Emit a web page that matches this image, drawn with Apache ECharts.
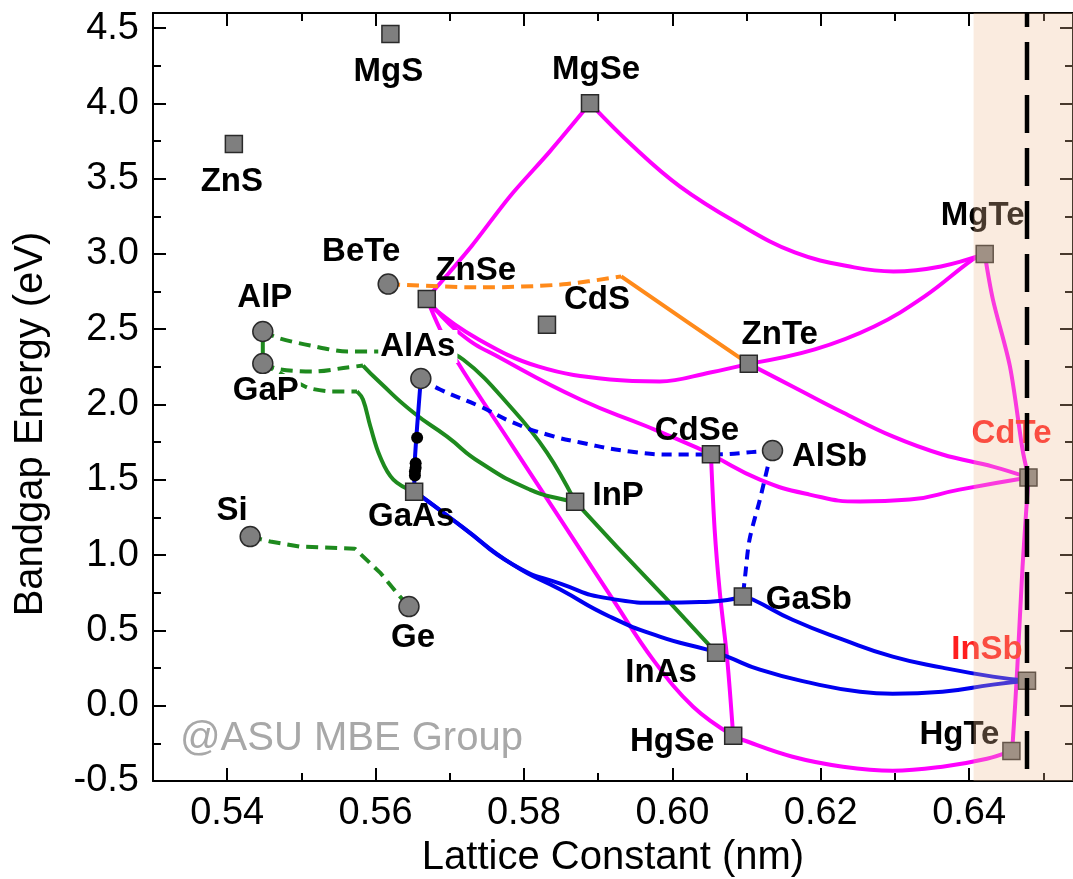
<!DOCTYPE html>
<html><head><meta charset="utf-8">
<script src="https://cdn.jsdelivr.net/npm/echarts@6/dist/echarts.min.js"></script>
<style>html,body{margin:0;padding:0;background:#fff}#c{width:1073px;height:879px}</style>
</head><body><div id="c"></div>
<script>
// ---------------- DATA ----------------
// Binary compounds (squares)
const squareNames = ['MgS','ZnS','MgSe','MgTe','ZnSe','CdS','ZnTe','CdSe','CdTe','InP','GaAs','GaSb','InAs','InSb','HgSe','HgTe'];
const squareA = [0.5620,0.5409,0.5889,0.6421,0.5669,0.5831,0.6103,0.6052,0.6480,0.5869,0.5652,0.6095,0.6059,0.6478,0.6082,0.6457];
const squareE = [4.46,3.73,4.00,3.00,2.70,2.53,2.27,1.67,1.515,1.355,1.42,0.725,0.352,0.166,-0.20,-0.30];
// Elements / compounds drawn as circles
const circleNames = ['BeTe','AlP','GaP','AlAs','AlSb','Si','Ge'];
const circleA = [0.5617,0.5448,0.5448,0.5661,0.6135,0.5431,0.5645];
const circleE = [2.80,2.485,2.272,2.173,1.694,1.123,0.658];
// small black dots on AlGaAs line
const dotA = [0.5656,0.5654,0.5654,0.5653,0.5653];
const dotE = [1.78,1.61,1.58,1.555,1.528];
// shaded region start / dashed marker line
const shadeStart = 0.6406;
const dashedLineA = 0.6478;
const dashedLine = [[dashedLineA, -0.5], [dashedLineA, 4.6]];

// magenta (II-VI) curves
const mZnSeMgSe = [[0.5669,2.704],[0.5729,3.050],[0.5781,3.382],[0.5835,3.681],[0.5889,4.00]];
const mMgSeMgTe = [[0.5889,4.00],[0.5947,3.715],[0.6010,3.449],[0.6086,3.210],[0.6165,3.010],[0.6245,2.911],[0.6298,2.884],[0.6362,2.917],[0.6421,3.00]];
const mZnSeZnTe = [[0.5669,2.704],[0.5675,2.651],[0.5739,2.432],[0.5819,2.253],[0.5916,2.166],[0.5983,2.153],[0.6051,2.213],[0.6103,2.27]];
const mZnTeMgTe = [[0.6103,2.27],[0.6192,2.366],[0.6272,2.518],[0.6340,2.718],[0.6405,2.964],[0.6421,3.00]];
const mZnTeCdTe = [[0.6103,2.27],[0.6162,2.120],[0.6230,1.947],[0.6297,1.788],[0.6364,1.668],[0.6432,1.588],[0.6480,1.515]];
const mZnSeCdTe = [[0.5669,2.704],[0.5714,2.472],[0.5772,2.299],[0.5876,2.033],[0.5966,1.854],[0.6033,1.714],[0.6052,1.668],[0.6118,1.502],[0.6185,1.402],[0.6253,1.356],[0.6320,1.369],[0.6387,1.435],[0.6480,1.515]];
const mZnSeHgSe = [[0.5669,2.704],[0.5687,2.499],[0.5710,2.286],[0.5785,1.721],[0.5853,1.209],[0.5920,0.704],[0.5974,0.306],[0.6028,-0.007],[0.6082,-0.20]];
const mCdSeHgSe = [[0.6052,1.67],[0.6057,1.170],[0.6064,0.751],[0.6074,0.306],[0.6082,-0.20]];
const mHgSeHgTe = [[0.6082,-0.20],[0.6094,-0.226],[0.6162,-0.339],[0.6230,-0.405],[0.6297,-0.432],[0.6364,-0.405],[0.6424,-0.352],[0.6457,-0.30]];
const mHgTeCdTe = [[0.6457,-0.30],[0.6459,-0.226],[0.6465,0.259],[0.6472,0.924],[0.6480,1.515]];
const mCdTeMgTe = [[0.6480,1.515],[0.6472,1.701],[0.6455,2.253],[0.6432,2.698],[0.6421,3.00]];

// orange BeTe-ZnTe
const oBeTeDash = [[0.5617,2.80],[0.5741,2.778],[0.5853,2.798],[0.5931,2.851]];
const oBeTeSolid = [[0.5931,2.851],[0.6021,2.545],[0.6103,2.27]];

// green (group IV / III-P) curves
const gAlPGaP = [[0.5448,2.485],[0.5448,2.272]];
const gAlPDash = [[0.5448,2.485],[0.5471,2.439],[0.5512,2.392],[0.5562,2.352],[0.5616,2.352],[0.5673,2.386]];
const gAlPSolid = [[0.5673,2.386],[0.5718,2.299],[0.5785,1.967],[0.5831,1.681],[0.5869,1.355]];
const gGaPInPDash = [[0.5448,2.272],[0.5471,2.233],[0.5516,2.219],[0.5562,2.246],[0.5583,2.259]];
const gGaPInPSolid = [[0.5583,2.259],[0.5606,2.146],[0.5651,1.947],[0.5696,1.788],[0.5741,1.615],[0.5808,1.435],[0.5853,1.369],[0.5869,1.355]];
const gGaPGaAsDash = [[0.5448,2.272],[0.5508,2.113],[0.5539,2.087],[0.5575,2.087]];
const gGaPGaAsSolid = [[0.5575,2.087],[0.5583,2.033],[0.5593,1.854],[0.5606,1.655],[0.5624,1.502],[0.5652,1.422]];
const gInPInAs = [[0.5869,1.355],[0.5925,1.057],[0.5993,0.704],[0.6059,0.352]];
const gSiGe = [[0.5431,1.123],[0.5458,1.090],[0.5498,1.057],[0.5572,1.043],[0.5606,0.884],[0.5633,0.724],[0.5645,0.658]];

// blue (III-As/Sb) curves
const bAlAsGaAs = [[0.5661,2.173],[0.5656,1.854],[0.5653,1.635],[0.5652,1.422]];
const bAlAsAlSb = [[0.5661,2.173],[0.5687,2.100],[0.5741,1.987],[0.5785,1.881],[0.5831,1.801],[0.5876,1.748],[0.5943,1.688],[0.6010,1.668],[0.6052,1.668],[0.6118,1.688],[0.6135,1.694]];
const bAlSbGaSb = [[0.6135,1.694],[0.6131,1.635],[0.6118,1.369],[0.6104,1.103],[0.6098,0.857],[0.6095,0.725]];
const bGaAsGaSb = [[0.5652,1.422],[0.5664,1.382],[0.5718,1.183],[0.5785,0.937],[0.5849,0.810],[0.5916,0.711],[0.5983,0.684],[0.6051,0.691],[0.6095,0.725]];
const bGaAsInAs = [[0.5652,1.422],[0.5664,1.382],[0.5718,1.183],[0.5785,0.937],[0.5849,0.771],[0.5916,0.591],[0.5983,0.459],[0.6047,0.372],[0.6059,0.352]];
const bGaSbInSb = [[0.6095,0.725],[0.6109,0.704],[0.6162,0.571],[0.6230,0.439],[0.6297,0.326],[0.6364,0.253],[0.6432,0.193],[0.6478,0.166]];
const bInAsInSb = [[0.6059,0.352],[0.6074,0.326],[0.6118,0.239],[0.6185,0.153],[0.6253,0.093],[0.6297,0.080],[0.6364,0.093],[0.6432,0.140],[0.6478,0.166]];

// ---------------- STYLE ----------------
const FONT = '"Liberation Sans", Arial, Helvetica, sans-serif';
const MAGENTA = '#FF00FF', BLUE = '#0000F0', GREEN = '#1E8A1E', ORANGE = '#FF8A1A';
const labelOffsets = {MgS:[-2,38], ZnS:[-2,38], MgSe:[6,-33], MgTe:[-2,-38], ZnSe:[49,-28], CdS:[50,-25],
  ZnTe:[31,-29], CdSe:[-14,-23], CdTe:[-17,-44], InP:[43,-6], GaAs:[-3,25], GaSb:[66,3], InAs:[-55,20],
  InSb:[-40,-31], HgSe:[-61,6], HgTe:[-52,-16], BeTe:[-27,-32], AlP:[2,-34], GaP:[3,27], AlAs:[-3,-32],
  AlSb:[57,6], Si:[-18,-26], Ge:[4,31]};
const redLabels = ['CdTe','InSb'];
const bgLabels = ['GaP','AlAs'];

function mkPoints(names, A, E) {
  return names.map((n, i) => ({
    name: n, value: [A[i], E[i]],
    label: {
      offset: labelOffsets[n],
      color: redLabels.includes(n) ? '#FF1E1E' : '#000',
      backgroundColor: bgLabels.includes(n) ? '#fff' : 'transparent',
      padding: bgLabels.includes(n) ? [0, 2] : 0
    }
  }));
}
function curve(data, color, dash, smooth, width) {
  return {type: 'line', data: data, showSymbol: false, symbol: 'none', smooth: smooth,
    lineStyle: {color: color, width: width || 4, type: dash || 'solid', cap: 'butt', join: 'round', opacity: 1},
    z: 2, silent: true, animation: false};
}

const xCommon = {type: 'value', min: 0.53, max: 0.654, minInterval: 0.02, maxInterval: 0.02,
  splitLine: {show: false}, minorSplitLine: {show: false},
  axisLine: {show: true, onZero: false, lineStyle: {color: '#000', width: 2}},
  axisTick: {show: true, inside: true, length: 13, lineStyle: {color: '#000', width: 2}},
  minorTick: {show: true, splitNumber: 2, length: 8, lineStyle: {color: '#000', width: 2}}};
const yCommon = {type: 'value', min: -0.5, max: 4.6, interval: 0.5,
  splitLine: {show: false}, minorSplitLine: {show: false},
  axisLine: {show: true, onZero: false, lineStyle: {color: '#000', width: 2}},
  axisTick: {show: true, inside: true, length: 13, lineStyle: {color: '#000', width: 2}},
  minorTick: {show: true, splitNumber: 2, length: 8, lineStyle: {color: '#000', width: 2}}};

const DASH = [12, 7];
const labelBase = {show: true, position: 'inside', formatter: '{b}', fontSize: 33, fontWeight: 'bold', fontFamily: FONT,
  align: 'center', verticalAlign: 'middle', opacity: 1};
const series = [
  curve(mZnSeMgSe, MAGENTA, null, 0.3),
  curve(mMgSeMgTe, MAGENTA, null, 0.4),
  curve(mZnSeZnTe, MAGENTA, null, 0.4),
  curve(mZnTeMgTe, MAGENTA, null, 0.4),
  curve(mZnTeCdTe, MAGENTA, null, 0.4),
  curve(mZnSeCdTe, MAGENTA, null, 0.5),
  curve(mZnSeHgSe, MAGENTA, null, 0.4),
  curve(mCdSeHgSe, MAGENTA, null, 0.3),
  curve(mHgSeHgTe, MAGENTA, null, 0.4),
  curve(mHgTeCdTe, MAGENTA, null, 0.3),
  curve(mCdTeMgTe, MAGENTA, null, 0.3),
  curve(oBeTeDash, ORANGE, [12, 7], 0.3),
  curve(oBeTeSolid, ORANGE, null, false),
  curve(gAlPGaP, GREEN, null, false),
  curve(gAlPDash, GREEN, DASH, 0.3),
  curve(gAlPSolid, GREEN, null, 0.4),
  curve(gGaPInPDash, GREEN, DASH, 0.3),
  curve(gGaPInPSolid, GREEN, null, 0.55),
  curve(gGaPGaAsDash, GREEN, DASH, 0.2),
  curve(gGaPGaAsSolid, GREEN, null, 0.4),
  curve(gInPInAs, GREEN, null, 0.3),
  curve(gSiGe, GREEN, DASH, false),
  curve(bAlAsGaAs, BLUE, null, 0.2),
  curve(bAlAsAlSb, BLUE, [10, 7], 0.5),
  curve(bAlSbGaSb, BLUE, [10, 7], 0.3),
  curve(bGaAsGaSb, BLUE, null, 0.55),
  curve(bGaAsInAs, BLUE, null, 0.55),
  curve(bGaSbInSb, BLUE, null, 0.5),
  curve(bInAsInSb, BLUE, null, 0.5),
  {type: 'scatter', data: dotA.map((a, i) => [a, dotE[i]]), symbol: 'circle', symbolSize: 12,
   itemStyle: {color: '#000', opacity: 1}, z: 3, silent: true, animation: false},
  {type: 'scatter', data: mkPoints(squareNames, squareA, squareE), symbol: 'rect', symbolSize: 17,
   itemStyle: {color: '#7F7F7F', borderColor: '#2A2A2A', borderWidth: 1.5, opacity: 1}, z: 4, silent: true, animation: false,
   label: labelBase},
  {type: 'scatter', data: mkPoints(circleNames, circleA, circleE), symbol: 'circle', symbolSize: 20,
   itemStyle: {color: '#7F7F7F', borderColor: '#2A2A2A', borderWidth: 1.5, opacity: 1}, z: 4, silent: true, animation: false,
   label: labelBase},
  {type: 'line', data: [], z: 10, silent: true, animation: false,
   markArea: {silent: true, z: 10, itemStyle: {color: 'rgba(240,190,150,0.3)'},
     data: [[{xAxis: shadeStart, yAxis: -0.5}, {xAxis: 0.654, yAxis: 4.6}]]}},
  {type: 'line', data: dashedLine, z: 11, silent: true, animation: false, showSymbol: false, symbol: 'none',
   lineStyle: {color: '#000', width: 4.5, type: [38, 15], dashOffset: 41, cap: 'butt', opacity: 1}}
];

const option = {
  animation: false,
  backgroundColor: '#fff',
  grid: {left: 153, right: 0, top: 13, bottom: 98, containLabel: false, outerBoundsMode: 'none'},
  xAxis: [
    Object.assign({}, xCommon, {position: 'bottom',
      axisLabel: {show: true, formatter: v => v.toFixed(2), showMinLabel: false, showMaxLabel: false,
        fontSize: 38, color: '#000', fontFamily: FONT, margin: 14},
      name: 'Lattice Constant (nm)', nameLocation: 'middle', nameGap: 56,
      nameTextStyle: {fontSize: 40, color: '#000', fontFamily: FONT}}),
    Object.assign({}, xCommon, {position: 'top', axisLabel: {show: false}})
  ],
  yAxis: [
    Object.assign({}, yCommon, {position: 'left',
      axisLabel: {show: true, formatter: v => v.toFixed(1), showMaxLabel: false,
        fontSize: 38, color: '#000', fontFamily: FONT, margin: 14}}),
    Object.assign({}, yCommon, {position: 'right', axisLabel: {show: false}})
  ],
  graphic: [
    {type: 'text', x: 31, y: 424, rotation: Math.PI / 2, silent: true,
     style: {text: 'Bandgap Energy (eV)', font: '40px ' + FONT, fill: '#000', textAlign: 'center', textVerticalAlign: 'middle'}},
    {type: 'text', x: 180, y: 739, silent: true, z: 1,
     style: {text: '@ASU MBE Group', font: '40px ' + FONT, fill: '#A8A8A8', textAlign: 'left', textVerticalAlign: 'middle'}}
  ],
  series: series
};
const chart = echarts.init(document.getElementById('c'), null, {renderer: 'canvas', width: 1073, height: 879});
chart.setOption(option);
</script>
</body></html>
